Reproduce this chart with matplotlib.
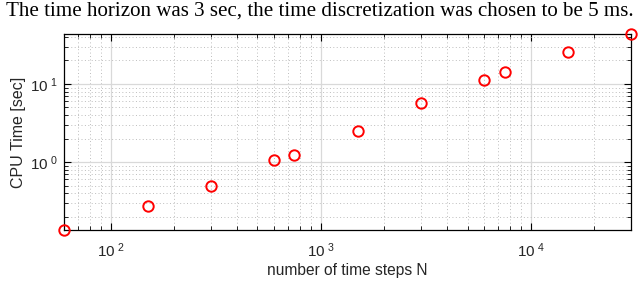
import matplotlib.pyplot as plt
from matplotlib.ticker import LogLocator, NullFormatter, FuncFormatter
import numpy as np

# number of time steps and measured CPU time
steps_n = [60, 150, 300, 600, 750, 1500, 3000, 6000, 7500, 15000, 30000]
cpu_time = [0.135, 0.273, 0.49, 1.06, 1.23, 2.5, 5.7, 11.3, 14.2, 25.6, 43.6]

plt.rcParams['font.family'] = ['Liberation Sans', 'DejaVu Sans']
plt.rcParams['mathtext.fontset'] = 'custom'
plt.rcParams['mathtext.rm'] = 'Liberation Sans'
plt.rcParams['mathtext.default'] = 'regular'

fig = plt.figure(figsize=(6.4, 2.83), dpi=100)
ax = fig.add_axes([0.1, 0.187, 0.886, 0.693])

ax.plot(steps_n, cpu_time, 'o', color='red', markerfacecolor='none',
        markersize=7.5, markeredgewidth=1.4, clip_on=False, zorder=5)

ax.set_xscale('log')
ax.set_yscale('log')
ax.set_xlim(min(steps_n), max(steps_n))
ax.set_ylim(min(cpu_time), max(cpu_time))


def pow_label(v, pos):
    return r'$10^{\ %d}$' % int(round(np.log10(v)))


ax.xaxis.set_major_formatter(FuncFormatter(pow_label))
ax.yaxis.set_major_formatter(FuncFormatter(pow_label))
ax.xaxis.set_minor_locator(LogLocator(base=10, subs=range(2, 10), numticks=20))
ax.yaxis.set_minor_locator(LogLocator(base=10, subs=range(2, 10), numticks=20))
ax.xaxis.set_minor_formatter(NullFormatter())
ax.yaxis.set_minor_formatter(NullFormatter())

ax.grid(True, which='major', color='#d9d9d9', linestyle='-', linewidth=0.9)
ax.grid(True, which='minor', color='#bdbdbd', linestyle=(0, (1, 2.5)), linewidth=0.7)
ax.set_axisbelow(True)

ax.tick_params(which='both', direction='in', top=True, right=True, labelsize=11,
               labelcolor='#262626')
ax.tick_params(axis='x', which='major', pad=8)
ax.tick_params(axis='y', which='major', pad=4)
ax.tick_params(which='major', length=5, width=0.8)
ax.tick_params(which='minor', length=3, width=0.6)
for s in ax.spines.values():
    s.set_linewidth(0.9)

ax.set_xlabel('number of time steps N', fontsize=11.2, color='#262626', labelpad=2)
ax.set_ylabel('CPU Time [sec]', fontsize=11.5, color='#262626', labelpad=3)

fig.text(0.5, 0.962, 'The time horizon was 3 sec, the time discretization was chosen to be 5 ms.',
         ha='center', va='center', fontsize=15.1, family=['Liberation Serif', 'DejaVu Serif'])

fig.savefig('out.png', dpi=100)
